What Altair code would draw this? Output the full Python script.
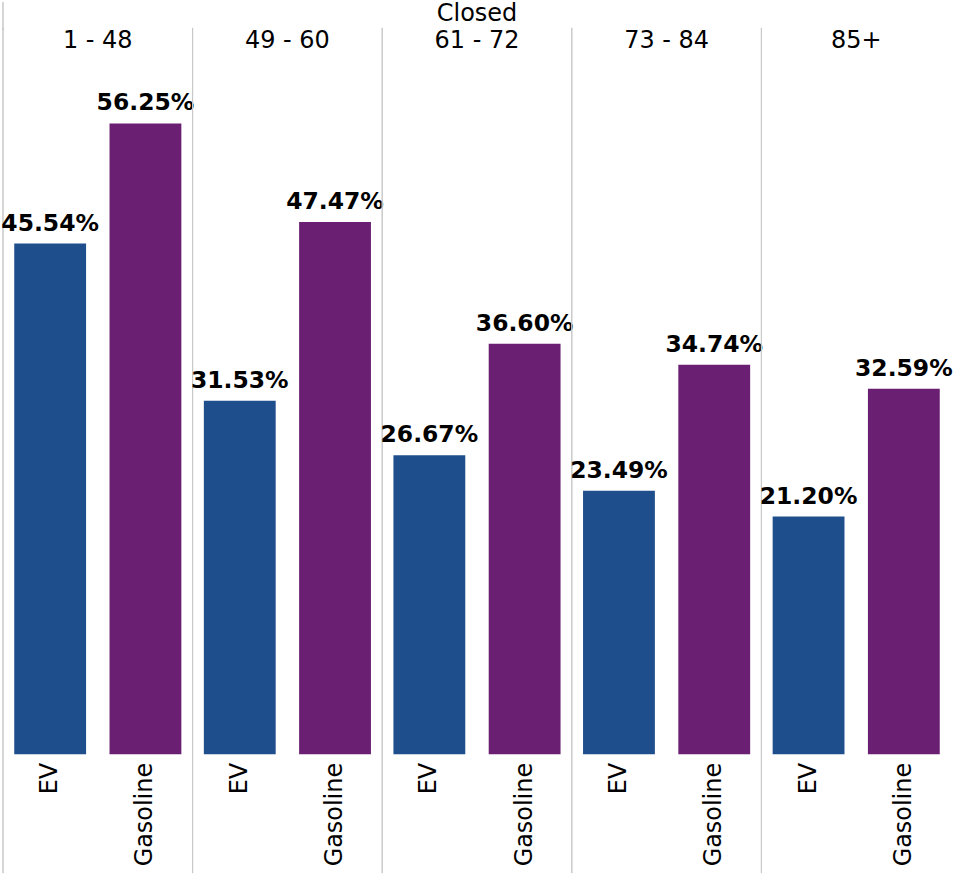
import altair as alt
import pandas as pd

groups = ["1 - 48", "49 - 60", "61 - 72", "73 - 84", "85+"]
fuels = ["EV", "Gasoline"]
ev_values = [45.54, 31.53, 26.67, 23.49, 21.20]
gas_values = [56.25, 47.47, 36.60, 34.74, 32.59]

rows = []
for g, e, s in zip(groups, ev_values, gas_values):
    rows.append({"group": g, "fuel": "EV", "value": e})
    rows.append({"group": g, "fuel": "Gasoline", "value": s})
df = pd.DataFrame(rows)

FONT = "DejaVu Sans"
PANEL_W = 190
PANEL_H = 696

x_enc = alt.X("fuel:N", sort=fuels,
              scale=alt.Scale(paddingInner=0.246, paddingOuter=0.118),
              axis=alt.Axis(title=None, labelAngle=-90, labelFontSize=24,
                            labelFont=FONT, labelColor="#000000",
                            labelPadding=8, ticks=False, domain=False))
y_enc = alt.Y("value:Q", scale=alt.Scale(domain=[0, 61.92], nice=False, zero=True),
              axis=None)

bars = alt.Chart().mark_bar().encode(
    x=x_enc,
    y=y_enc,
    color=alt.Color("fuel:N", scale=alt.Scale(domain=fuels, range=["#1f4e8d", "#6b1f73"]),
                    legend=None),
)

labels = alt.Chart().transform_calculate(
    lbl="format(datum.value, '.2f') + '%'"
).mark_text(
    baseline="bottom", dy=-8, fontSize=23.5, fontWeight="bold", font=FONT, color="#000000"
).encode(
    x=alt.X("fuel:N", sort=fuels),
    y=alt.Y("value:Q"),
    text="lbl:N",
)

seps = alt.Chart().mark_rule(color="#c8c8c8", strokeWidth=1).encode(
    x=alt.value(0), y=alt.value(-32), y2=alt.value(PANEL_H + 119)
)

first_sep = alt.Chart().mark_rule(color="#c8c8c8", strokeWidth=1).transform_filter(
    alt.datum.group == groups[0]
).encode(
    x=alt.value(0), y=alt.value(-58), y2=alt.value(-30)
)

layer = alt.layer(seps, first_sep, bars, labels).properties(width=PANEL_W, height=PANEL_H)

chart = layer.facet(
    data=df,
    column=alt.Column("group:N", sort=groups,
                      header=alt.Header(title="Closed", titleFontSize=24, titleFont=FONT,
                                        titleColor="#000000", titleFontWeight="normal",
                                        titlePadding=-7,
                                        labelFontSize=24, labelFont=FONT, labelColor="#000000",
                                        labelPadding=7, labelOrient="top")),
    spacing=0,
    bounds="flush",
).configure_view(stroke=None).properties(
    padding={"left": 1, "top": 0, "right": 0, "bottom": 0}
)

chart.save("out.html", embed_options={"renderer": "svg", "actions": False})
